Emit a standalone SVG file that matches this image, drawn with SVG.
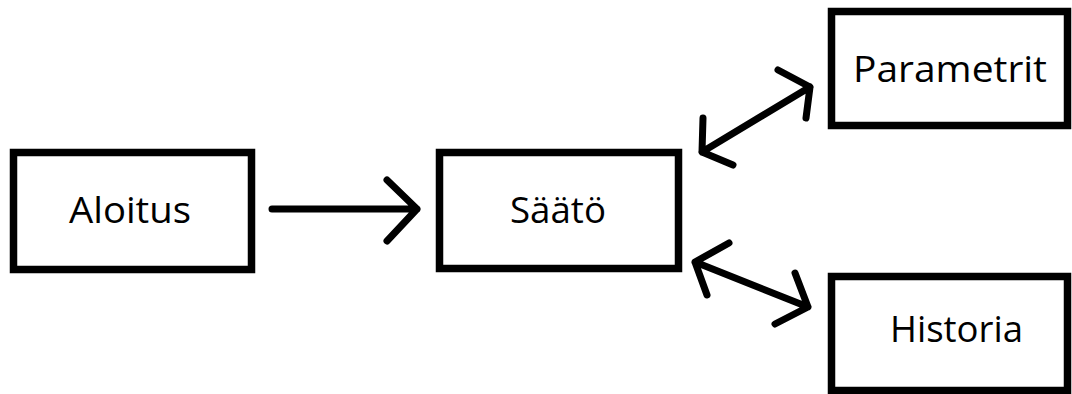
<svg xmlns="http://www.w3.org/2000/svg" width="1072" height="394" viewBox="0 0 1072 394">
  <style>
    .box { fill: #ffffff; stroke: #000000; stroke-width: 7.5; }
    .label { font-family: "Open Sans", "Noto Sans", sans-serif; font-size: 36px; fill: #000000; text-anchor: middle; }
    .conn { fill: none; stroke: #000000; stroke-width: 7; stroke-linecap: round; stroke-linejoin: round; }
  </style>
  <rect width="1072" height="394" fill="#ffffff"/>
  <g id="aloitus">
    <rect class="box" x="13.5" y="152.5" width="238" height="117"/>
    <text class="label" x="130" y="223" textLength="122" lengthAdjust="spacingAndGlyphs">Aloitus</text>
  </g>
  <g id="saato">
    <rect class="box" x="439.5" y="152.5" width="239" height="116"/>
    <text class="label" x="558" y="223" textLength="96" lengthAdjust="spacingAndGlyphs">Säätö</text>
  </g>
  <g id="parametrit">
    <rect class="box" x="831.5" y="11.5" width="236" height="114"/>
    <text class="label" x="950" y="82" textLength="194" lengthAdjust="spacingAndGlyphs">Parametrit</text>
  </g>
  <g id="historia">
    <rect class="box" x="831.5" y="276.5" width="236" height="114"/>
    <text class="label" x="956.5" y="342" textLength="133" lengthAdjust="spacingAndGlyphs">Historia</text>
  </g>
  <g id="connectors">
    <path class="conn" d="M272 209 H417 M387 180 L417 209 L387 241"/>
    <path class="conn" d="M702 152 L810 87 M778 70 L810 87 L806 118 M703 118 L702 152 L733 165"/>
    <path class="conn" d="M695 262 L808 307 M729 243 L695 262 L707 295 M795 273 L808 307 L775 324"/>
  </g>
</svg>
